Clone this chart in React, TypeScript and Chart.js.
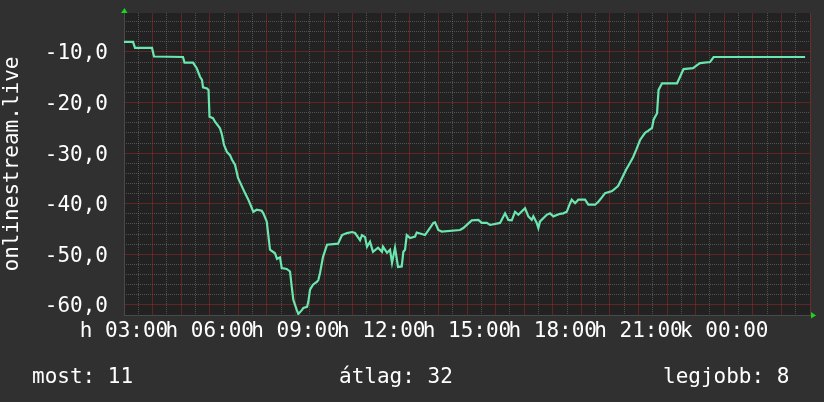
import { useEffect, useRef } from 'react';
import { Chart, registerables } from 'chart.js';

Chart.register(...registerables);

// vertices of the traced line: hours after Monday 03:00, and the value there
const hours = [
  0, 0.315, 0.385, 0.98, 1.05, 2.064, 2.117, 2.414, 2.544, 2.659,
  2.729, 2.764, 2.904, 2.957, 2.992, 3.114, 3.184, 3.359, 3.429, 3.499,
  3.604, 3.709, 3.779, 3.884, 3.989, 4.234, 4.349, 4.468, 4.524, 4.643,
  4.818, 4.874, 4.993, 5.049, 5.108, 5.283, 5.353, 5.458, 5.518, 5.693,
  5.808, 5.868, 5.924, 6.043, 6.099,
  6.228, 6.274, 6.403, 6.449, 6.508, 6.613, 6.753, 6.798, 6.858, 6.963,
  7.103, 7.488, 7.628, 7.803, 7.978, 8.083, 8.258, 8.328, 8.433, 8.502,
  8.607, 8.712, 8.887, 9.027, 9.062, 9.202, 9.307, 9.377, 9.482, 9.587,
  9.717, 9.773, 9.832, 9.892, 10.007, 10.182, 10.241, 10.532, 10.707, 10.822,
  10.882, 10.997, 11.116, 11.756, 11.872, 12.166, 12.397, 12.516, 12.691, 12.806,
  13.156, 13.331, 13.447, 13.566, 13.681, 13.796, 14.031, 14.146, 14.265, 14.321,
  14.44, 14.496, 14.556, 14.79, 14.906, 15.021, 15.255, 15.371, 15.49, 15.605,
  15.665, 15.78, 15.896, 16.13, 16.245, 16.48, 16.596,
  16.725, 16.83, 17.075, 17.285, 17.425, 17.565, 17.705, 17.81, 17.915, 18.055,
  18.229, 18.334, 18.474, 18.527, 18.649, 18.702, 18.824, 19.349, 19.454, 19.577,
  19.909, 20.049, 20.154, 20.504, 20.627, 23.828,
];

const values = [
  -8.0, -8.0, -9.2, -9.2, -10.9, -11.0, -12.1, -12.1, -13.2, -14.9,
  -15.5, -17.0, -17.2, -17.5, -22.8, -23.1, -23.8, -25.1, -26.4, -28.4,
  -29.8, -30.4, -31.3, -32.3, -34.9, -37.9, -39.2, -40.8, -41.6, -41.2,
  -41.4, -41.9, -43.5, -46.2, -49.1, -49.8, -50.9, -50.6, -52.7, -52.9,
  -53.4, -56.4, -59.0, -61.0, -61.8,
  -61.0, -60.6, -60.4, -59.4, -57.0, -56.0, -55.4, -55.1, -53.7, -50.5,
  -48.1, -47.9, -46.2, -45.8, -45.6, -45.8, -47.2, -46.2, -46.6, -48.5,
  -47.5, -49.5, -48.7, -49.5, -48.5, -49.7, -49.1, -51.7, -48.7, -52.5,
  -52.4, -49.5, -49.1, -46.2, -46.8, -46.5, -45.7, -46.2, -44.8, -43.8,
  -43.7, -45.2, -45.5, -45.2, -44.8, -43.3, -43.2, -43.8, -43.8, -44.2,
  -43.8, -41.9, -43.2, -43.3, -41.6, -42.2, -40.9, -42.5, -43.2, -42.5,
  -43.8, -44.8, -43.5, -42.2, -41.9, -42.5, -42.0, -41.9, -41.6, -39.9,
  -39.2, -39.9, -39.2, -39.2, -40.2, -40.2, -39.6,
  -38.7, -37.9, -37.5, -36.5, -34.9, -33.3, -31.9, -30.8, -29.4, -27.4,
  -26.0, -25.6, -25.0, -23.4, -22.1, -17.5, -16.2, -16.2, -14.9, -13.4,
  -13.2, -12.6, -12.2, -12.0, -11.0, -11.0,
];

const xMajorHours = [0, 1, 2, 3, 4, 5, 6, 7, 8, 9, 10, 11, 12, 13, 14, 15, 16, 17, 18, 19, 20, 21, 22, 23, 24];
const xMinorHours = [0.5, 1.5, 2.5, 3.5, 4.5, 5.5, 6.5, 7.5, 8.5, 9.5, 10.5, 11.5, 12.5, 13.5, 14.5, 15.5, 16.5, 17.5, 18.5, 19.5, 20.5, 21.5, 22.5, 23.5];
const xTickHours = [0, 3, 6, 9, 12, 15, 18, 21];
const xTickLabels = ['h 03:00', 'h 06:00', 'h 09:00', 'h 12:00', 'h 15:00', 'h 18:00', 'h 21:00', 'k 00:00'];
const yTickValues = [-60, -50, -40, -30, -20, -10];
const yTickLabels = ['-60,0', '-50,0', '-40,0', '-30,0', '-20,0', '-10,0'];
const yMinorValues = [-62, -58, -56, -54, -52, -48, -46, -44, -42, -38, -36, -34, -32, -28, -26, -24, -22, -18, -16, -14, -12, -8, -6, -4];
const yTitle = 'onlinestream.live';
const legendTexts = ['most: 11', 'átlag: 32', 'legjobb: 8'];

const FONT = '"DejaVu Sans Mono", monospace';
const MINOR = 'rgba(130,130,130,0.5)';
const MAJOR = 'rgba(170,45,45,0.45)';
const X_MIN = 0;
const X_MAX = 24;
const Y_MIN = -62;
const Y_MAX = -2.3;

export default function App() {
  const ref = useRef<HTMLCanvasElement | null>(null);

  useEffect(() => {
    const canvas = ref.current;
    if (!canvas) return;

    const bgPlugin = {
      id: 'rrdBg',
      beforeDraw(chart: any) {
        const { ctx, chartArea } = chart;
        ctx.save();
        ctx.fillStyle = '#303030';
        ctx.fillRect(0, 0, chart.width, chart.height);
        ctx.fillStyle = '#222222';
        ctx.fillRect(chartArea.left, chartArea.top, chartArea.right - chartArea.left, chartArea.bottom - chartArea.top);
        ctx.restore();
      },
      afterDraw(chart: any) {
        const { ctx, chartArea } = chart;
        ctx.save();
        ctx.fillStyle = '#1ed41e';
        ctx.beginPath();
        ctx.moveTo(chartArea.left - 3, chartArea.top);
        ctx.lineTo(chartArea.left + 3.5, chartArea.top);
        ctx.lineTo(chartArea.left + 0.5, chartArea.top - 5);
        ctx.closePath();
        ctx.fill();
        ctx.beginPath();
        ctx.moveTo(chartArea.right + 1, chartArea.bottom - 3);
        ctx.lineTo(chartArea.right + 1, chartArea.bottom + 3.5);
        ctx.lineTo(chartArea.right + 6, chartArea.bottom + 0.5);
        ctx.closePath();
        ctx.fill();
        ctx.fillStyle = '#ffffff';
        ctx.font = '21px ' + FONT;
        ctx.textBaseline = 'alphabetic';
        ctx.textAlign = 'left';
        ctx.fillText(legendTexts[0], 32, 383);
        ctx.fillText(legendTexts[1], 339, 383);
        ctx.fillText(legendTexts[2], 663, 383);
        ctx.restore();
      },
    };

    const hiddenTicks = { display: false };
    const zeroSizeH = (s: any) => {
      s.height = 0;
      s.paddingLeft = 0;
      s.paddingRight = 0;
      s.paddingTop = 0;
      s.paddingBottom = 0;
    };
    const zeroSizeV = (s: any) => {
      s.width = 0;
      s.paddingLeft = 0;
      s.paddingRight = 0;
      s.paddingTop = 0;
      s.paddingBottom = 0;
    };

    const chart = new Chart(canvas, {
      type: 'line',
      data: {
        datasets: [
          {
            data: hours.map((h, i) => ({ x: h, y: values[i] })),
            xAxisID: 'x',
            yAxisID: 'y',
            borderColor: '#6ae6ae',
            borderWidth: 2.2,
            pointRadius: 0,
            tension: 0,
            fill: false,
          },
        ],
      },
      options: {
        animation: false,
        responsive: false,
        devicePixelRatio: 1,
        layout: { padding: { left: 0, right: 14, top: 13, bottom: 0 } },
        plugins: { legend: { display: false }, tooltip: { enabled: false } },
        scales: {
          xMinor: {
            type: 'linear',
            position: 'bottom',
            min: X_MIN,
            max: X_MAX,
            afterBuildTicks: (s: any) => {
              s.ticks = xMinorHours.map((v) => ({ value: v }));
            },
            afterFit: zeroSizeH,
            ticks: hiddenTicks,
            grid: { drawTicks: false, lineWidth: 1, color: MINOR },
            border: { display: false, dash: [1, 1] },
          },
          yMinor: {
            type: 'linear',
            position: 'left',
            min: Y_MIN,
            max: Y_MAX,
            afterBuildTicks: (s: any) => {
              s.ticks = yMinorValues.map((v) => ({ value: v }));
            },
            afterFit: zeroSizeV,
            ticks: hiddenTicks,
            grid: { drawTicks: false, lineWidth: 1, color: MINOR },
            border: { display: false, dash: [1, 1] },
          },
          x: {
            type: 'linear',
            position: 'bottom',
            min: X_MIN,
            max: X_MAX,
            afterBuildTicks: (s: any) => {
              s.ticks = xMajorHours.map((v) => ({ value: v }));
            },
            afterFit: (s: any) => {
              s.height = 87;
              s.paddingLeft = 0;
              s.paddingRight = 0;
            },
            ticks: {
              autoSkip: false,
              maxRotation: 0,
              minRotation: 0,
              padding: 4,
              color: '#ffffff',
              font: { family: FONT, size: 21 },
              callback: (v: any) => {
                const i = xTickHours.indexOf(Number(v));
                return i >= 0 ? xTickLabels[i] : '';
              },
            },
            grid: { drawTicks: false, lineWidth: 1, color: MAJOR },
            border: { display: true, color: '#4a4a4a', width: 1, dash: [] },
          },
          y: {
            type: 'linear',
            position: 'left',
            min: Y_MIN,
            max: Y_MAX,
            afterBuildTicks: (s: any) => {
              s.ticks = yTickValues.map((v) => ({ value: v }));
            },
            afterFit: (s: any) => {
              s.width = 124;
              s.paddingTop = 0;
              s.paddingBottom = 0;
            },
            ticks: {
              autoSkip: false,
              padding: 16,
              labelOffset: 2,
              color: '#ffffff',
              font: { family: FONT, size: 21 },
              callback: (v: any) => {
                const i = yTickValues.indexOf(Number(v));
                return i >= 0 ? yTickLabels[i] : '';
              },
            },
            title: {
              display: true,
              text: yTitle,
              color: '#ffffff',
              font: { family: FONT, size: 21 },
              padding: { top: 0, bottom: 0 },
            },
            grid: { drawTicks: false, lineWidth: 1, color: MAJOR },
            border: { display: true, color: '#4a4a4a', width: 1, dash: [] },
          },
        },
      },
      plugins: [bgPlugin],
    } as any);

    return () => chart.destroy();
  }, []);

  return (
    <div style={{ position: 'absolute', left: 0, top: 0, width: 824, height: 402, background: '#303030' }}>
      <canvas ref={ref} width={824} height={402} style={{ display: 'block', width: 824, height: 402 }} />
    </div>
  );
}
